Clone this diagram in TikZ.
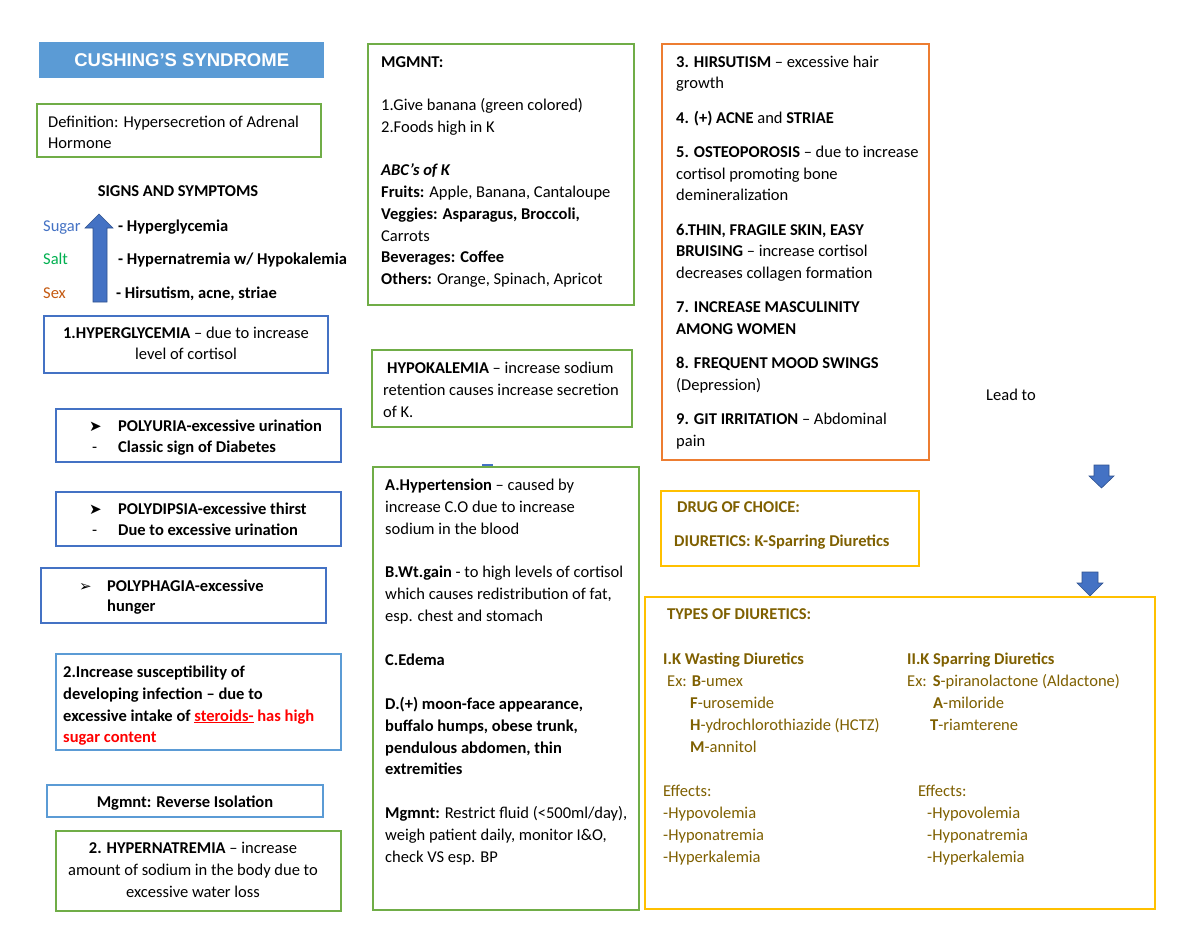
\documentclass[tikz,border=0pt]{standalone}
\usepackage{fontspec}
\setmainfont{Carlito}
\newfontfamily\djv{DejaVu Sans}
\newfontfamily\titlefont{Liberation Sans}
\definecolor{cgreen}{HTML}{70AD47}
\definecolor{dblue}{HTML}{4472C4}
\definecolor{lblue}{HTML}{5B9BD5}
\definecolor{corange}{HTML}{ED7D31}
\definecolor{cgold}{HTML}{FFC000}
\definecolor{goldtext}{HTML}{7F6000}
\definecolor{arrowline}{HTML}{2F528F}
\definecolor{saltgreen}{HTML}{00B050}
\definecolor{sexorange}{HTML}{C55A11}
\newcommand\st{\rule{0pt}{14pt}}
\newcommand\bul{{\djv\fontsize{15}{15}\selectfont ➤}}
\newcommand\bulo{{\djv\fontsize{15}{15}\selectfont ➢}}
\newcommand\mybox[6]{\node[boxst, draw=#2, minimum width={(#5-#3)*1pt}, minimum height={(#6-#4)*1pt}] (#1) at (#3,#4) {};}
\begin{document}
\begin{tikzpicture}[x=1pt,y=-1pt,
  boxst/.style={line width=1.6pt, inner sep=0pt, outer sep=0pt, anchor=north west, fill=white},
  txt/.style={anchor=north west, inner sep=0pt, align=left, font=\fontsize{16.5}{21.7}\selectfont},
  ctxt/.style={anchor=north, inner sep=0pt, align=center, font=\fontsize{16.5}{21.7}\selectfont},
  one/.style={anchor=base west, inner sep=0pt, font=\fontsize{16.5}{20}\selectfont},
  arr/.style={fill=dblue, draw=arrowline, line width=0.6pt, line join=miter}]
\useasboundingbox (0,0) rectangle (1200,927);
\fill[white] (0,0) rectangle (1200,927);

% ---------- left column ----------
\node[anchor=north west, fill=lblue, inner sep=0pt, minimum width=285pt, minimum height=36pt] (title) at (39,42) {};
\node[inner sep=0pt, text=white, draw=black!45, line width=0.3pt, draw opacity=0, font=\titlefont\bfseries\fontsize{18.5}{20}\selectfont] (titletext) at (title.center) {CUSHING’S SYNDROME};

\mybox{def}{cgreen}{37}{104}{321}{157}
\node[txt] (deftext) at (48,113) {\st Definition: Hypersecretion of Adrenal\\Hormone};

\node[anchor=base, inner sep=0pt, font=\bfseries\fontsize{16.5}{18}\selectfont] (signs) at (178,196) {SIGNS AND SYMPTOMS};

\node[one, text=dblue] (sugar) at (43,231) {Sugar};
\node[one, text=saltgreen] (salt) at (43,264) {Salt};
\node[one, text=sexorange] (sex) at (43,298) {Sex};
\node[one, font=\bfseries\fontsize{16.5}{20}\selectfont] (hgly) at (118,231) {- Hyperglycemia};
\node[one, font=\bfseries\fontsize{16.5}{20}\selectfont] (hnat) at (118,264) {- Hypernatremia w/ Hypokalemia};
\node[one, font=\bfseries\fontsize{16.5}{20}\selectfont] (hirs) at (116,298) {- Hirsutism, acne, striae};
\fill[arr] (99,214) -- (113,228) -- (107,228) -- (107,302) -- (93,302) -- (93,228) -- (85,228) -- cycle;

\mybox{b1}{dblue}{44}{316}{328}{373}
\node[ctxt] (b1t) at (186,324) {\st\textbf{1.HYPERGLYCEMIA} – due to increase\\level of cortisol};

\mybox{b2}{dblue}{56}{409}{341}{462}
\node[txt, font=\bfseries\fontsize{16.5}{21}\selectfont] (b2t) at (89,417) {\st\makebox[29pt][l]{\bul}POLYURIA-excessive urination\\\makebox[29pt][l]{\mdseries\hspace*{3pt}-}Classic sign of Diabetes};

\mybox{b3}{dblue}{56}{492}{341}{546}
\node[txt, font=\bfseries\fontsize{16.5}{21}\selectfont] (b3t) at (89,500) {\st\makebox[29pt][l]{\bul}POLYDIPSIA-excessive thirst\\\makebox[29pt][l]{\mdseries\hspace*{3pt}-}Due to excessive urination};

\mybox{b4}{dblue}{41}{568}{326}{623}
\node[txt, font=\bfseries\fontsize{16.5}{20.5}\selectfont] (b4t) at (79,577) {\st\makebox[28pt][l]{\bulo}POLYPHAGIA-excessive\\\hspace*{28pt}hunger};

\mybox{b5}{lblue}{56}{654}{341}{750}
\node[txt, font=\bfseries\fontsize{16.5}{21.9}\selectfont] (b5t) at (63,663) {\st 2.Increase susceptibility of\\developing infection – due to\\excessive intake of \textcolor{red}{\underline{steroids-} has high}\\\textcolor{red}{sugar content}};

\mybox{b6}{lblue}{47}{785}{323}{817}
\node[anchor=base, inner sep=0pt, font=\bfseries\fontsize{16.5}{20}\selectfont] (b6t) at (185,807) {Mgmnt: Reverse Isolation};

\mybox{b7}{cgreen}{56}{831}{341}{911}
\node[ctxt, font=\fontsize{16.5}{21.9}\selectfont] (b7t) at (193,839) {\st\textbf{2. HYPERNATREMIA} – increase\\amount of sodium in the body due to\\excessive water loss};

% ---------- middle column ----------
\mybox{m1}{cgreen}{368}{44}{634}{305}
\node[txt, font=\fontsize{16.5}{21.75}\selectfont] (m1t) at (381,53) {\st\textbf{MGMNT:}\\[21.75pt]1.Give banana (green colored)\\2.Foods high in K\\[21.75pt]\textbf{\textit{ABC’s of K}}\\\textbf{Fruits:} Apple, Banana, Cantaloupe\\\textbf{Veggies: Asparagus, Broccoli,}\\Carrots\\\textbf{Beverages: Coffee}\\\textbf{Others:} Orange, Spinach, Apricot};

\mybox{m2}{cgreen}{372}{350}{632}{427}
\node[txt, font=\fontsize{16.5}{22}\selectfont] (m2t) at (383,359) {\st\hspace*{4pt}\textbf{HYPOKALEMIA} – increase sodium\\retention causes increase secretion\\of K.};

\fill[dblue] (482,464) rectangle (493,467.5);

\mybox{m3}{cgreen}{373}{467}{639}{910}
\node[txt, font=\fontsize{16.5}{21.9}\selectfont] (m3t) at (385,476) {\st\textbf{A.Hypertension} – caused by\\increase C.O due to increase\\sodium in the blood\\[21.9pt]\textbf{B.Wt.gain} - to high levels of cortisol\\which causes redistribution of fat,\\esp. chest and stomach\\[21.9pt]\textbf{C.Edema}\\[21.9pt]\textbf{D.(+) moon-face appearance,}\\\textbf{buffalo humps, obese trunk,}\\\textbf{pendulous abdomen, thin}\\\textbf{extremities}\\[21.9pt]\textbf{Mgmnt:} Restrict fluid (<500ml/day),\\weigh patient daily, monitor I\&O,\\check VS esp. BP};

% ---------- right column ----------
\mybox{o1}{corange}{662}{44}{929}{460}
\node[txt, font=\fontsize{16.5}{21.7}\selectfont] (o1t) at (676,53) {\st\textbf{3. HIRSUTISM} – excessive hair\\growth\\[12.6pt]\textbf{4. (+) ACNE} and \textbf{STRIAE}\\[12.6pt]\textbf{5. OSTEOPOROSIS} – due to increase\\cortisol promoting bone\\demineralization\\[12.6pt]\textbf{6.THIN, FRAGILE SKIN, EASY}\\\textbf{BRUISING} – increase cortisol\\decreases collagen formation\\[12.6pt]\textbf{7. INCREASE MASCULINITY}\\\textbf{AMONG WOMEN}\\[12.6pt]\textbf{8. FREQUENT MOOD SWINGS}\\(Depression)\\[12.6pt]\textbf{9. GIT IRRITATION} – Abdominal\\pain};

\node[one] (lead) at (986,400) {Lead to};
\fill[arr] (1094,465) -- (1109,465) -- (1109,476) -- (1114,476) -- (1101.5,488) -- (1089,476) -- (1094,476) -- cycle;

\mybox{d1}{cgold}{661}{491}{919}{566}
\node[one, text=goldtext, font=\bfseries\fontsize{16.5}{20}\selectfont] (d1a) at (677,512) {DRUG OF CHOICE:};
\node[one, text=goldtext, font=\bfseries\fontsize{16.5}{20}\selectfont] (d1b) at (674,546) {DIURETICS: K-Sparring Diuretics};

\fill[arr] (1082,572) -- (1098,572) -- (1098,583) -- (1103,583) -- (1090,596) -- (1077,583) -- (1082,583) -- cycle;

\mybox{t1}{cgold}{645}{597}{1155}{909}
\node[one, text=goldtext, font=\bfseries\fontsize{16.5}{20}\selectfont] (t1a) at (667,619) {TYPES OF DIURETICS:};
\node[txt, text=goldtext, font=\fontsize{16.5}{22}\selectfont] (t1l) at (663,650) {\st\textbf{I.K Wasting Diuretics}\\\hspace*{4pt}Ex: \textbf{B}-umex\\\hspace*{27pt}\textbf{F}-urosemide\\\hspace*{27pt}\textbf{H}-ydrochlorothiazide (HCTZ)\\\hspace*{27pt}\textbf{M}-annitol\\[22pt]Effects:\\-Hypovolemia\\-Hyponatremia\\-Hyperkalemia};
\node[txt, text=goldtext, font=\fontsize{16.5}{22}\selectfont] (t1r) at (907,650) {\st\textbf{II.K Sparring Diuretics}\\Ex:\hspace{6pt}\textbf{S}-piranolactone (Aldactone)\\\hspace*{26pt}\textbf{A}-miloride\\\hspace*{23pt}\textbf{T}-riamterene\\[44pt]\hspace*{11pt}Effects:\\\hspace*{20pt}-Hypovolemia\\\hspace*{20pt}-Hyponatremia\\\hspace*{20pt}-Hyperkalemia};
\end{tikzpicture}
\end{document}
